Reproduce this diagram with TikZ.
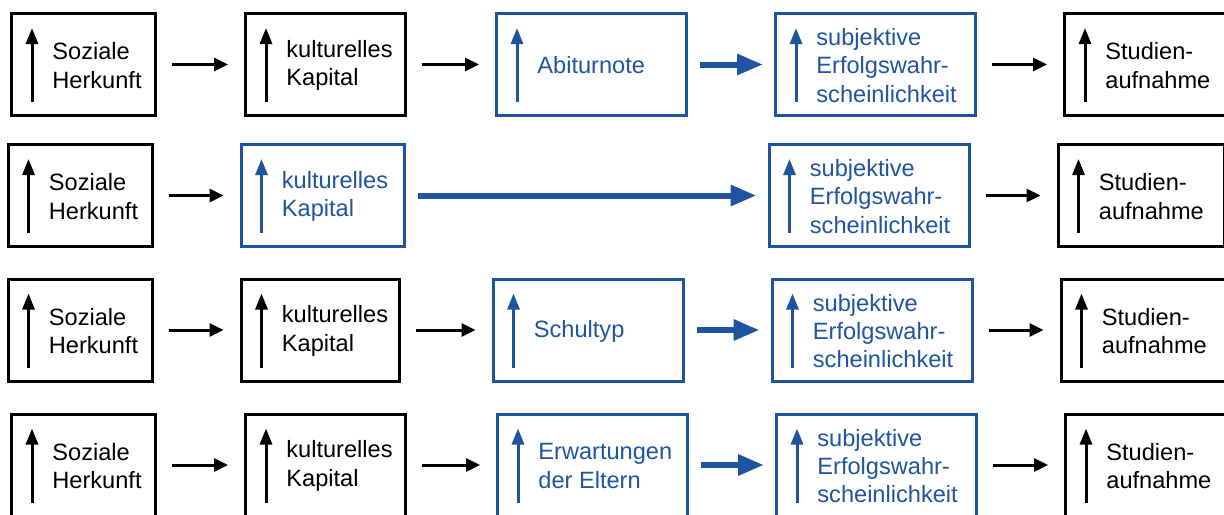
\documentclass[tikz,border=0pt]{standalone}
\usepackage{fontspec}
\setmainfont{Liberation Sans}
\usetikzlibrary{arrows.meta,positioning,calc}
\definecolor{lineblue}{RGB}{31,84,160}

\begin{document}
\begin{tikzpicture}[
    x=0.5pt, y=-0.5pt,
    box/.style={rectangle, draw=black, line width=1.5pt, minimum height=51pt, inner sep=0pt},
    boxtext/.style={anchor=west, xshift=21pt, yshift=-0.5pt, align=left, inner sep=0pt, font=\fontsize{11.8}{14.2}\selectfont},
    uparrow/.style={line width=1.5pt, -{Triangle[length=8pt,width=6pt]}},
    factor/.style={box, label={[boxtext]west:#1},
        path picture={\draw[uparrow] ([xshift=10.25pt,yshift=6.75pt]path picture bounding box.south west) -- ([xshift=10.25pt,yshift=-7.25pt]path picture bounding box.north west);}},
    bluefactor/.style={box, draw=lineblue, label={[boxtext, text=lineblue]west:#1},
        path picture={\draw[uparrow, lineblue] ([xshift=10.25pt,yshift=6.75pt]path picture bounding box.south west) -- ([xshift=10.25pt,yshift=-7.25pt]path picture bounding box.north west);}},
    line/.style={draw, line width=1.5pt, -{Triangle[length=7pt,width=6.5pt]}, shorten <=7.5pt, shorten >=8pt},
    thickline/.style={draw=lineblue, line width=3pt, -{Triangle[length=13pt,width=10pt]}, shorten <=6pt, shorten >=5.5pt},
    node distance=43pt
]
\useasboundingbox (0,0) rectangle (1224,514);

% Row 1
\node[factor={Soziale\\Herkunft}, minimum width=72pt] (herkunft1) at (83.5,64.5) {};
\node[factor={kulturelles\\Kapital}, minimum width=80pt, right=43.5pt of herkunft1] (kapital1) {};
\node[bluefactor={Abiturnote}, minimum width=95pt, right=44pt of kapital1] (abitur1) {};
\node[bluefactor={subjektive\\Erfolgswahr-\\scheinlichkeit}, minimum width=100pt, right=of abitur1] (erfolg1) {};
\node[factor={Studien-\\aufnahme}, minimum width=81pt, right=of erfolg1] (studium1) {};

% Row 2
\node[factor={Soziale\\Herkunft}, minimum width=72pt] (herkunft2) at (80,195.5) {};
\node[bluefactor={kulturelles\\Kapital}, minimum width=81.5pt, right=of herkunft2] (kapital2) {};
\node[bluefactor={subjektive\\Erfolgswahr-\\scheinlichkeit}, minimum width=100pt, right=181pt of kapital2] (erfolg2) {};
\node[factor={Studien-\\aufnahme}, minimum width=83pt, right=of erfolg2] (studium2) {};

% Row 3
\node[factor={Soziale\\Herkunft}, minimum width=72pt] (herkunft3) at (80,330) {};
\node[factor={kulturelles\\Kapital}, minimum width=79pt, right=of herkunft3] (kapital3) {};
\node[bluefactor={Schultyp}, minimum width=95pt, right=45.5pt of kapital3] (schultyp3) {};
\node[bluefactor={subjektive\\Erfolgswahr-\\scheinlichkeit}, minimum width=100pt, right=of schultyp3] (erfolg3) {};
\node[factor={Studien-\\aufnahme}, minimum width=82pt, right=of erfolg3] (studium3) {};

% Row 4
\node[factor={Soziale\\Herkunft}, minimum width=72pt] (herkunft4) at (83.5,465) {};
\node[factor={kulturelles\\Kapital}, minimum width=80pt, right=43.5pt of herkunft4] (kapital4) {};
\node[bluefactor={Erwartungen\\der Eltern}, minimum width=95pt, right=44.5pt of kapital4] (eltern4) {};
\node[bluefactor={subjektive\\Erfolgswahr-\\scheinlichkeit}, minimum width=100pt, right=of eltern4] (erfolg4) {};
\node[factor={Studien-\\aufnahme}, minimum width=80pt, right=of erfolg4] (studium4) {};

% Lines
\draw[line] (herkunft1) -- (kapital1);
\draw[line] (kapital1) -- (abitur1);
\draw[thickline] (abitur1) -- (erfolg1);
\draw[line] (erfolg1) -- (studium1);

\draw[line] (herkunft2) -- (kapital2);
\draw[thickline] (kapital2) -- (erfolg2);
\draw[line] (erfolg2) -- (studium2);

\draw[line] (herkunft3) -- (kapital3);
\draw[line] (kapital3) -- (schultyp3);
\draw[thickline] (schultyp3) -- (erfolg3);
\draw[line] (erfolg3) -- (studium3);

\draw[line] (herkunft4) -- (kapital4);
\draw[line] (kapital4) -- (eltern4);
\draw[thickline] (eltern4) -- (erfolg4);
\draw[line] (erfolg4) -- (studium4);

\end{tikzpicture}
\end{document}
